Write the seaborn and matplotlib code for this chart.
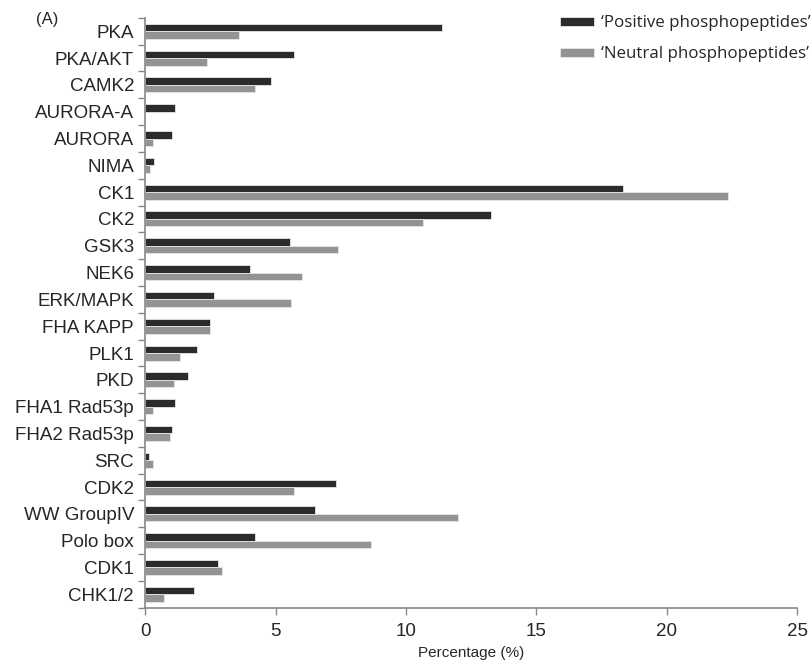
import matplotlib
matplotlib.use("Agg")
from matplotlib import pyplot as plt
import pandas as pd
import seaborn as sns

# kinase motif categories, top to bottom
kinases = ["PKA", "PKA/AKT", "CAMK2", "AURORA-A", "AURORA", "NIMA", "CK1", "CK2",
           "GSK3", "NEK6", "ERK/MAPK", "FHA KAPP", "PLK1", "PKD", "FHA1 Rad53p",
           "FHA2 Rad53p", "SRC", "CDK2", "WW GroupIV", "Polo box", "CDK1", "CHK1/2"]

positive = [11.38, 5.72, 4.81, 1.15, 1.04, 0.32, 18.33, 13.27,
            5.54, 4.03, 2.65, 2.47, 2.00, 1.64, 1.15,
            1.04, 0.13, 7.33, 6.50, 4.22, 2.78, 1.88]

neutral = [3.61, 2.36, 4.22, 0.0, 0.31, 0.19, 22.36, 10.66,
           7.40, 6.02, 5.59, 2.47, 1.34, 1.10, 0.31,
           0.97, 0.31, 5.72, 12.00, 8.65, 2.96, 0.74]

groups = ["\u2018Positive phosphopeptides\u2019", "\u2018Neutral phosphopeptides\u2019"]
x_ticks = [0, 5, 10, 15, 20, 25]

df = pd.DataFrame({
    "Kinase": kinases * 2,
    "Percentage": positive + neutral,
    "Group": [groups[0]] * len(kinases) + [groups[1]] * len(kinases),
})

sns.set_style("white")
plt.rcParams["font.family"] = ["Liberation Sans", "DejaVu Sans"]

fig, ax = plt.subplots(figsize=(8.11, 6.62), dpi=100)
fig.subplots_adjust(left=0.179, right=0.983, top=0.973, bottom=0.082)

sns.barplot(data=df, y="Kinase", x="Percentage", hue="Group", orient="h",
            palette=["#2b2b2b", "#939393"], width=0.56, edgecolor="#e6e6e6",
            linewidth=0.6, ax=ax, legend=True)

ax.set_xlim(0, 25)
ax.set_ylim(len(kinases) - 0.5, -0.5)
ax.set_xticks(x_ticks)
ax.set_xticklabels([str(t) for t in x_ticks], fontsize=13.5)
ax.set_xlabel("Percentage (%)", fontsize=11, labelpad=4)
ax.set_ylabel("")
ax.tick_params(axis="y", which="major", left=False, length=0, labelsize=13.5, pad=8)
ax.set_yticks([i - 0.5 for i in range(len(kinases) + 1)], minor=True)
ax.tick_params(axis="y", which="minor", left=True, length=5, color="#888888", width=1)
ax.tick_params(axis="x", bottom=True, length=5, color="#888888", width=1, pad=6)

for side in ["top", "right"]:
    ax.spines[side].set_visible(False)
for side in ["left", "bottom"]:
    ax.spines[side].set_color("#888888")
    ax.spines[side].set_linewidth(1.2)

handles, labels = ax.get_legend_handles_labels()
ax.get_legend().remove()
fig.legend(handles, labels, loc="upper right", bbox_to_anchor=(1.018, 1.0),
           frameon=False, prop={"family": "Open Sans", "size": 12.2},
           handlelength=2.0, handleheight=0.45, handletextpad=0.4, labelspacing=0.9)

fig.text(0.045, 0.963, "(A)", fontsize=12)

fig.savefig("out.png", dpi=100)
